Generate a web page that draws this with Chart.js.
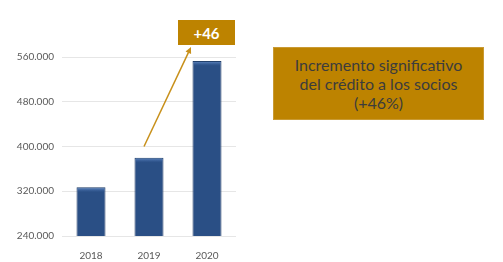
<!DOCTYPE html>
<html>
<head>
<meta charset="utf-8">
<script src="https://cdn.jsdelivr.net/npm/chart.js@4"></script>
<style>
  html, body { margin: 0; padding: 0; background: #fff; }
  #wrap { position: relative; width: 503px; height: 262px; }
  canvas { position: absolute; left: 0; top: 0; }
  .badge { position: absolute; left: 178px; top: 20px; width: 57px; height: 25px;
    background: #bd8300; color: #fff; font: bold 15px Lato, sans-serif;
    display: flex; align-items: center; justify-content: center; }
  .note { position: absolute; left: 273px; top: 47px; width: 211px; height: 73px;
    background: #bd8300; color: #3c3c3c; font: 16px Lato, sans-serif; line-height: 19px;
    display: flex; align-items: center; justify-content: center; text-align: center;
    box-sizing: border-box; border: 1px solid #c99a33; }
</style>
</head>
<body>
<div id="wrap">
  <canvas id="c" width="503" height="262"></canvas>
  <div class="badge">+46</div>
  <div class="note"><div>Incremento significativo<br>del crédito a los socios<br>(+46%)</div></div>
</div>
<script>
const categories = ['2018', '2019', '2020'];
const creditValues = [327000, 380000, 553000];
const yTicks = [240000, 320000, 400000, 480000, 560000];

function fmt(v) {
  return String(Math.round(v)).replace(/\B(?=(\d{3})+(?!\d))/g, '.');
}

const decor = {
  id: 'decor',
  afterDatasetsDraw(chart) {
    const ctx = chart.ctx;
    const meta = chart.getDatasetMeta(0);
    ctx.save();
    meta.data.forEach(bar => {
      const w = bar.width;
      const l = bar.x - w / 2;
      const g = ctx.createLinearGradient(0, bar.y, 0, bar.y + 5);
      g.addColorStop(0, 'rgba(110,150,210,0.95)');
      g.addColorStop(1, 'rgba(60,100,160,0)');
      ctx.fillStyle = g;
      ctx.fillRect(l + 1, bar.y + 1, w - 2, 5);
    });
    // arrow
    const xs = chart.scales.x, ys = chart.scales.y;
    const x0 = xs.getPixelForValue(1) - 5, y0 = ys.getPixelForValue(400000);
    const x1 = xs.getPixelForValue(2) - 16, y1 = chart.chartArea.top - 10;
    ctx.strokeStyle = '#c8901a';
    ctx.fillStyle = '#c8901a';
    ctx.lineWidth = 1.5;
    const ang = Math.atan2(y1 - y0, x1 - x0);
    const hl = 7;
    ctx.beginPath();
    ctx.moveTo(x0, y0);
    ctx.lineTo(x1 - Math.cos(ang) * hl * 0.8, y1 - Math.sin(ang) * hl * 0.8);
    ctx.stroke();
    ctx.beginPath();
    ctx.moveTo(x1, y1);
    ctx.lineTo(x1 - hl * Math.cos(ang - 0.45), y1 - hl * Math.sin(ang - 0.45));
    ctx.lineTo(x1 - hl * Math.cos(ang + 0.45), y1 - hl * Math.sin(ang + 0.45));
    ctx.closePath();
    ctx.fill();
    ctx.restore();
  }
};

new Chart(document.getElementById('c'), {
  type: 'bar',
  data: {
    labels: categories,
    datasets: [{
      data: creditValues,
      backgroundColor: '#2a4f85',
      borderColor: '#1d3b66',
      borderWidth: 1,
      categoryPercentage: 1,
      barPercentage: 0.5
    }]
  },
  options: {
    responsive: false,
    animation: false,
    layout: { padding: { left: 0, right: 267, top: 57, bottom: 0 } },
    plugins: { legend: { display: false }, tooltip: { enabled: false } },
    scales: {
      x: {
        grid: { display: false },
        border: { display: false },
        ticks: { color: '#595959', font: { family: 'Lato', size: 10 }, padding: 6 },
        afterFit(s) { s.height = 26; }
      },
      y: {
        min: 240000, max: 560000,
        afterBuildTicks(s) { s.ticks = yTicks.map(v => ({ value: v })); },
        grid: { color: '#e6e6e6', drawTicks: false, lineWidth: 1 },
        border: { display: false },
        ticks: { color: '#595959', font: { family: 'Lato', size: 10 }, padding: 8,
          callback: v => fmt(v) },
        afterFit(s) { s.width = 62; }
      }
    }
  },
  plugins: [decor]
});
</script>
</body>
</html>
